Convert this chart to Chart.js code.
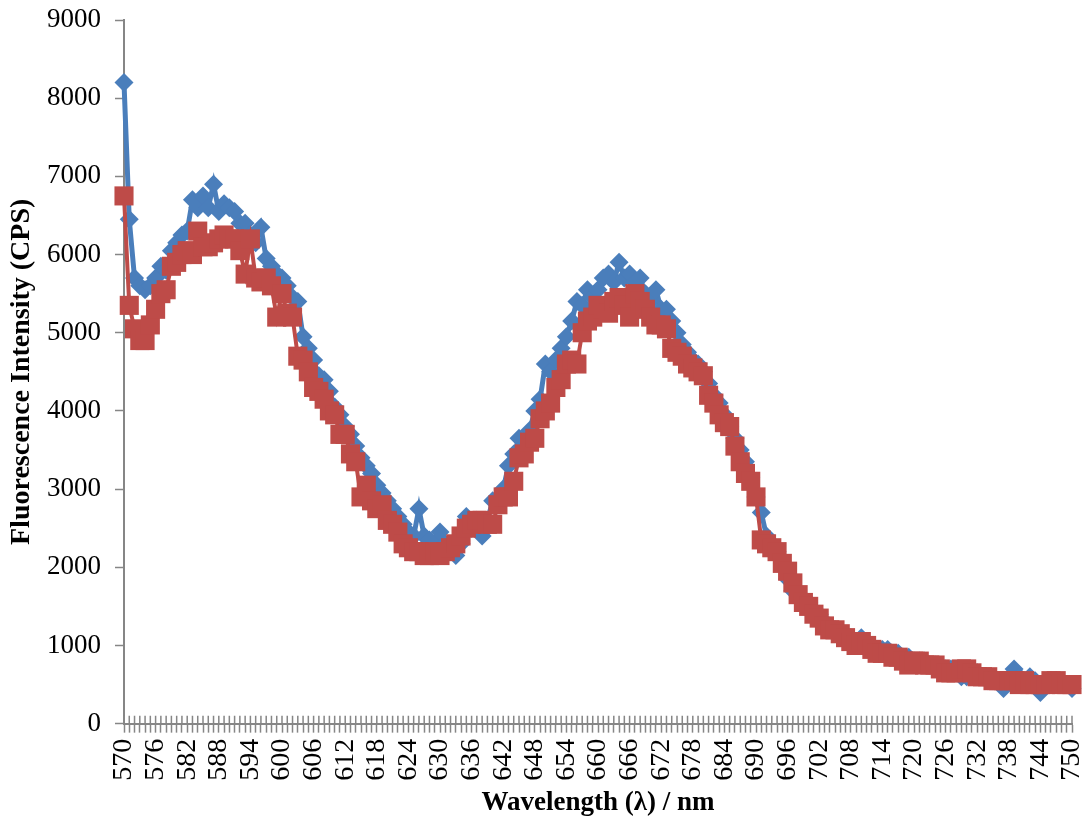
<!DOCTYPE html>
<html>
<head>
<meta charset="utf-8">
<script src="https://cdn.jsdelivr.net/npm/chart.js@4.4.1/dist/chart.umd.min.js"></script>
<style>
  html, body { margin: 0; padding: 0; background: #ffffff; }
  #wrap { width: 1087px; height: 821px; }
</style>
</head>
<body>
<div id="wrap"><canvas id="spectrumChart" width="1087" height="821"></canvas></div>
<script>
// wavelengths 570..750 nm, one point per nm
const wavelengths = [];
for (let w = 570; w <= 750; w++) wavelengths.push(String(w));

// labels shown under the x axis
const tickLabels = ['570','576','582','588','594','600','606','612','618','624','630','636','642','648','654','660',
                    '666','672','678','684','690','696','702','708','714','720','726','732','738','744','750'];

// blue diamonds (series 1), 570..750
const blueSeries = [
  8200, 6450, 5700, 5600, 5550, 5600, 5700, 5850, 5800, 6050,   // 570-579
  6150, 6250, 6300, 6700, 6600, 6750, 6600, 6900, 6550, 6650,   // 580-589
  6600, 6550, 6400, 6400, 6250, 6150, 6350, 5950, 5850, 5750,   // 590-599
  5700, 5600, 5450, 5400, 4950, 4800, 4650, 4450, 4400, 4250,   // 600-609
  4050, 3950, 3800, 3700, 3550, 3400, 3300, 3200, 3050, 2950,   // 610-619
  2850, 2750, 2650, 2550, 2450, 2400, 2750, 2400, 2350, 2300,   // 620-629
  2450, 2300, 2250, 2150, 2300, 2650, 2500, 2600, 2400, 2600,   // 630-639
  2850, 2800, 3000, 3300, 3450, 3650, 3550, 3750, 4000, 4150,   // 640-649
  4600, 4500, 4650, 4800, 4950, 5150, 5400, 5350, 5550, 5450,   // 650-659
  5550, 5700, 5750, 5650, 5900, 5700, 5750, 5650, 5700, 5500,   // 660-669
  5400, 5550, 5300, 5300, 5150, 5000, 4850, 4750, 4650, 4600,   // 670-679
  4500, 4350, 4200, 4100, 3950, 3800, 3650, 3500, 3350, 3150,   // 680-689
  2900, 2700, 2400, 2300, 2200, 2050, 1850, 1700, 1650, 1600,   // 690-699
  1550, 1450, 1400, 1300, 1250, 1200, 1150, 1100, 1100, 1050,   // 700-709
  1100, 1000, 1000,  950,  950,  950,  900,  900,  850,  850,   // 710-719
   800,  800,  800,  750,  750,  700,  700,  700,  650,  600,   // 720-729
   600,  650,  650,  600,  550,  550,  550,  450,  550,  700,   // 730-739
   600,  550,  600,  550,  400,  500,  550,  550,  500,  500,   // 740-749
   450                                                          // 750
];

// red squares (series 2), 570..750
const redSeries = [
  6750, 5350, 5050, 4900, 4900, 5100, 5300, 5500, 5550, 5850,   // 570-579
  5900, 6000, 6050, 6000, 6300, 6100, 6100, 6150, 6200, 6250,   // 580-589
  6200, 6200, 6050, 5750, 6200, 5700, 5650, 5700, 5600, 5200,   // 590-599
  5500, 5250, 5200, 4700, 4650, 4500, 4300, 4250, 4150, 4000,   // 600-609
  3950, 3700, 3700, 3450, 3350, 2900, 3050, 2850, 2750, 2800,   // 610-619
  2600, 2550, 2450, 2300, 2250, 2200, 2200, 2150, 2150, 2200,   // 620-629
  2150, 2200, 2250, 2300, 2400, 2500, 2550, 2600, 2600, 2550,   // 630-639
  2550, 2800, 2900, 2900, 3100, 3400, 3450, 3600, 3650, 3900,   // 640-649
  4000, 4100, 4300, 4400, 4600, 4650, 4600, 5000, 5150, 5200,   // 650-659
  5350, 5300, 5250, 5400, 5450, 5350, 5200, 5500, 5400, 5300,   // 660-669
  5200, 5100, 5100, 5050, 4800, 4750, 4700, 4600, 4550, 4500,   // 670-679
  4450, 4200, 4100, 3950, 3850, 3800, 3550, 3350, 3200, 3100,   // 680-689
  2900, 2350, 2300, 2250, 2200, 2050, 1950, 1800, 1650, 1550,   // 690-699
  1500, 1400, 1350, 1250, 1200, 1200, 1150, 1100, 1050, 1000,   // 700-709
  1050, 1000,  950,  900,  900,  900,  850,  850,  800,  750,   // 710-719
   800,  800,  750,  750,  750,  700,  650,  650,  650,  700,   // 720-729
   700,  650,  600,  600,  600,  550,  550,  550,  550,  550,   // 730-739
   500,  550,  500,  500,  500,  500,  550,  550,  500,  500,   // 740-749
   500                                                          // 750
];

const yTicks = [0, 1000, 2000, 3000, 4000, 5000, 6000, 7000, 8000, 9000];

const axisGrey = '#868686';
const serif = "'Liberation Serif', 'Times New Roman', serif";

// Excel-style cross tick marks: the part of each x tick above the axis line
const crossTicks = {
  id: 'crossTicks',
  beforeDatasetsDraw(chart) {
    const x = chart.scales.x;
    const c = chart.ctx;
    c.save();
    c.strokeStyle = axisGrey;
    c.lineWidth = 1.5;
    c.beginPath();
    for (let i = 0; i < x.ticks.length; i++) {
      const px = x.getPixelForTick(i);
      c.moveTo(px, x.top - 8);
      c.lineTo(px, x.top);
    }
    c.stroke();
    c.restore();
  }
};

const ctx = document.getElementById('spectrumChart').getContext('2d');

new Chart(ctx, {
  type: 'line',
  data: {
    labels: wavelengths,
    datasets: [
      {
        label: 'Series1',
        data: blueSeries,
        borderColor: '#4A7EBB',
        backgroundColor: '#4A7EBB',
        borderWidth: 5,
        pointStyle: 'rectRot',
        pointRadius: 9.5,
        pointBorderWidth: 0,
        tension: 0,
        clip: false,
        order: 1
      },
      {
        label: 'Series2',
        data: redSeries,
        borderColor: '#BE4B48',
        backgroundColor: '#BE4B48',
        borderWidth: 4,
        pointStyle: 'rect',
        pointRadius: 13.5,
        pointBorderWidth: 0,
        tension: 0,
        clip: false,
        order: 0
      }
    ]
  },
  options: {
    responsive: false,
    animation: false,
    layout: { padding: { left: 5, right: 15, top: 0, bottom: 4 } },
    plugins: {
      legend: { display: false },
      tooltip: { enabled: false },
      title: { display: false }
    },
    scales: {
      x: {
        type: 'category',
        offset: false,
        border: { color: axisGrey, width: 2 },
        grid: {
          display: true,
          drawOnChartArea: false,
          drawTicks: true,
          tickLength: 9,
          tickWidth: 1.5,
          color: axisGrey,
          offset: false
        },
        afterFit: function (scale) {
          scale.paddingLeft = 0;
          scale.paddingRight = 0;
        },
        ticks: {
          autoSkip: false,
          minRotation: 90,
          maxRotation: 90,
          padding: 6,
          color: '#000000',
          font: { family: serif, size: 28 },
          callback: function (value) {
            const lab = this.getLabelForValue(value);
            return tickLabels.includes(lab) ? lab : '';
          }
        },
        title: {
          display: true,
          text: 'Wavelength (λ) / nm',
          color: '#000000',
          font: { family: serif, size: 27, weight: 'bold', lineHeight: 1.05 },
          padding: { top: 2, bottom: 0 }
        }
      },
      y: {
        min: 0,
        max: 9000,
        border: { color: axisGrey, width: 2 },
        grid: {
          display: true,
          drawOnChartArea: false,
          drawTicks: true,
          tickLength: 9,
          tickWidth: 1.5,
          color: axisGrey
        },
        afterBuildTicks: function (axis) {
          axis.ticks = yTicks.map(v => ({ value: v }));
        },
        afterFit: function (scale) {
          scale.width = 119;
          scale.paddingTop = 20;
          scale.paddingBottom = 0;
        },
        ticks: {
          padding: 14,
          color: '#000000',
          font: { family: serif, size: 27 },
          callback: function (value) { return String(value); }
        },
        title: {
          display: true,
          text: 'Fluorescence Intensity (CPS)',
          color: '#000000',
          font: { family: serif, size: 28, weight: 'bold' },
          padding: { top: 0, bottom: 0 }
        }
      }
    }
  },
  plugins: [crossTicks]
});
</script>
</body>
</html>
